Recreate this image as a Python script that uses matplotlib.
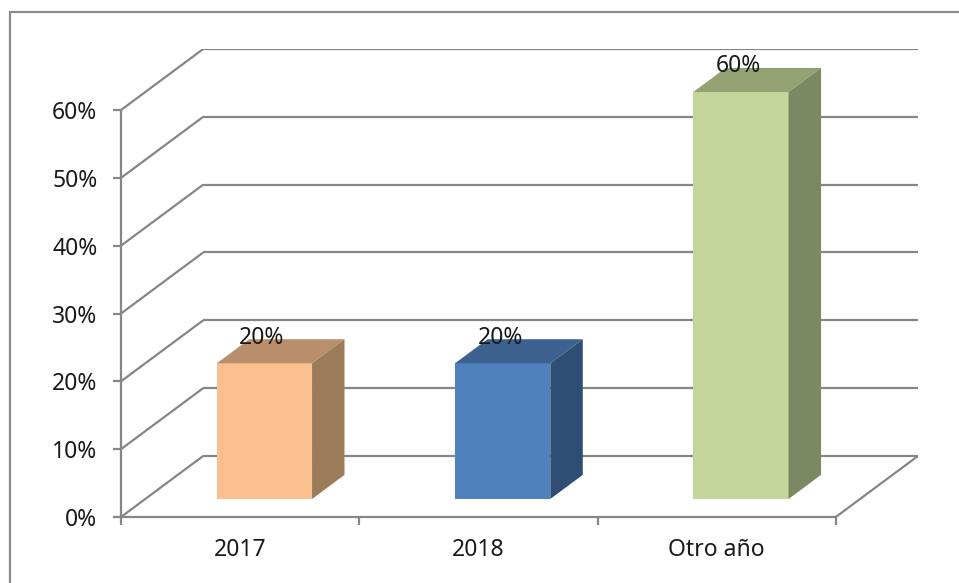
import matplotlib
matplotlib.use("Agg")
import matplotlib.pyplot as plt
from matplotlib.patches import Polygon, Rectangle

# data
categories = ["2017", "2018", "Otro año"]
values = [0.20, 0.20, 0.60]
labels = ["20%", "20%", "60%"]
y_ticks = [0.0, 0.1, 0.2, 0.3, 0.4, 0.5, 0.6]
y_tick_labels = ["0%", "10%", "20%", "30%", "40%", "50%", "60%"]

front_colors = ["#FAC090", "#4F81BD", "#C3D69B"]
top_colors = ["#B98E6B", "#3D6290", "#93A173"]
side_colors = ["#9C7B59", "#2F4E75", "#7B8963"]

# fake 3D: depth offset of the back wall in data units
DX = 0.345     # categories
DY = 0.090     # value units
D0, D1 = 0.295, 0.69   # bar depth span (fraction of full depth)
BAR_W = 0.40
GRID = "#868686"
LW = 1.6
TXT = "#1a1a1a"
FONT = "Noto Sans"
FS = 16.5

W, H = 959, 583
fig = plt.figure(figsize=(W / 100, H / 100), dpi=100)

# outer chart border (right and bottom edges fall outside the picture)
fig.patches.append(Rectangle((9.5 / W, -0.05), 1.2, 1.05 - 12 / H,
                             transform=fig.transFigure, fill=False,
                             edgecolor="#8a8a8a", lw=1.6))

nc = len(categories)
ax = fig.add_axes([121 / W, (H - 517) / H, (918 - 121) / W, (517 - 49) / H])
ax.set_xlim(0, nc + DX)
ax.set_ylim(0, y_ticks[-1] + DY)
ax.patch.set_visible(False)
for s in ["top", "right"]:
    ax.spines[s].set_visible(False)
for s in ["left", "bottom"]:
    ax.spines[s].set_color(GRID)
    ax.spines[s].set_linewidth(LW)
ax.spines["left"].set_bounds(0, y_ticks[-1])
ax.spines["bottom"].set_bounds(0, nc)

ax.set_yticks(y_ticks)
ax.set_yticklabels(y_tick_labels)
ax.set_xticks(range(nc + 1))
ax.set_xticklabels([""] * (nc + 1))
ax.set_xticks([i + 0.5 for i in range(nc)], minor=True)
ax.set_xticklabels(categories, minor=True)
ax.tick_params(axis="y", direction="out", length=6, width=LW, color=GRID,
               pad=11, labelsize=FS, labelcolor=TXT)
ax.tick_params(axis="x", which="major", direction="out", length=6, width=LW,
               color=GRID)
ax.tick_params(axis="x", which="minor", length=0, pad=15, labelsize=FS,
               labelcolor=TXT)
for lab in ax.get_xticklabels(minor=True) + ax.get_yticklabels():
    lab.set_fontfamily(FONT)

# walls: left side diagonals + back wall lines
for v in y_ticks:
    ax.plot([0, DX], [v, v + DY], color=GRID, lw=LW, zorder=1,
            solid_capstyle="butt")
    ax.plot([DX, nc + DX], [v + DY, v + DY], color=GRID, lw=LW, zorder=1,
            solid_capstyle="butt")
# floor right edge
ax.plot([nc, nc + DX], [0, DY], color=GRID, lw=LW, zorder=1)

# bars
for i, v in enumerate(values):
    x0 = i + 0.5 - BAR_W / 2 + D0 * DX
    x1 = x0 + BAR_W
    y0 = D0 * DY
    y1 = v + D0 * DY
    ddx = (D1 - D0) * DX
    ddy = (D1 - D0) * DY
    ax.add_patch(Polygon([(x0, y0), (x1, y0), (x1, y1), (x0, y1)],
                         closed=True, facecolor=front_colors[i],
                         edgecolor="none", zorder=3))
    ax.add_patch(Polygon([(x0, y1), (x1, y1), (x1 + ddx, y1 + ddy),
                          (x0 + ddx, y1 + ddy)],
                         closed=True, facecolor=top_colors[i],
                         edgecolor="none", zorder=3))
    ax.add_patch(Polygon([(x1, y0), (x1 + ddx, y0 + ddy),
                          (x1 + ddx, y1 + ddy), (x1, y1)],
                         closed=True, facecolor=side_colors[i],
                         edgecolor="none", zorder=3))
    ax.text((x0 + x1) / 2 - 0.01, y1 + 0.038, labels[i], ha="center",
            va="center", fontsize=FS, color=TXT, family=FONT, zorder=4)

fig.savefig("out.png", dpi=100)
